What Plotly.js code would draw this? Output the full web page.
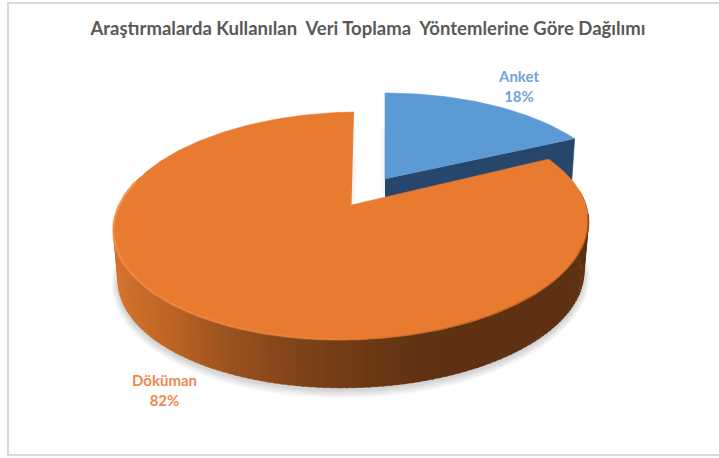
<!DOCTYPE html>
<html>
<head>
<meta charset="utf-8">
<script src="https://cdn.plot.ly/plotly-3.0.1.min.js"></script>
<style>html,body{margin:0;padding:0;background:#fff;overflow:hidden}#c{width:719px;height:458px}</style>
</head>
<body>
<div id="c"></div>
<script>
const categories = ["Anket", "Döküman"];
const values = [18, 82];
const topColors = ["#5b9ad5", "#e97b30"];
const sideColors = ["#26476b", "#5f3211"];
const labelColors = ["#6da5da", "#ee8a4c"];
const chartTitle = "Araştırmalarda Kullanılan\u00a0 Veri Toplama\u00a0 Yöntemlerine Göre Dağılımı";

const W = 719, H = 458;
const total = values.reduce((a, b) => a + b, 0);
const rad = d => d * Math.PI / 180;
const bounds = [0, values[0] / total * 360, 360];

// perspective disc: centre, x radius, depth radius, foreshortening, shear, tilt
const blueDisc = {ax: 385, ay: 179, R: 226, C: 101.8, k: 0.184, sh: 0, ro: 0};
const orangeTop = {ax: 351.5, ay: 205, R: 233.5, C: 110.1, k: 0.184, sh: 0.027, ro: 0.012};
const orangeBot = {ax: 351.5, ay: 255.5, R: 229, C: 108, k: 0.184, sh: 0.027, ro: 0.012};

function pt(d, t) {
  const s = Math.sin(rad(t)), c = Math.cos(rad(t)), q = 1 + d.k * c;
  return [d.ax + d.R * s / q + d.sh * d.C * c / q, d.ay - d.C * c / q - d.ro * d.R * s / q];
}
function arc(d, a, b, step) {
  const out = [], n = Math.max(1, Math.round(Math.abs(b - a) / (step || 1)));
  for (let i = 0; i <= n; i++) out.push(pt(d, a + (b - a) * i / n));
  return out;
}
function poly(points, fill, line, width) {
  return {type: "scatter", mode: "lines", x: points.map(p => p[0]), y: points.map(p => p[1]),
    fill: "toself", fillcolor: fill, line: {color: line || fill, width: width === undefined ? 0.6 : width},
    hoverinfo: "skip", showlegend: false};
}
function stroke(points, color, width) {
  return {type: "scatter", mode: "lines", x: points.map(p => p[0]), y: points.map(p => p[1]),
    line: {color: color, width: width}, hoverinfo: "skip", showlegend: false};
}
const stops = [[113,[214,114,46]],[170,[188,99,36]],[230,[152,81,30]],[300,[126,66,25]],[360,[110,58,21]],[420,[96,51,18]],[455,[93,49,17]],[600,[93,49,17]]];
function sideColor(x) {
  for (let i = 1; i < stops.length; i++) {
    if (x <= stops[i][0]) {
      const [x0, c0] = stops[i - 1], [x1, c1] = stops[i], f = Math.max(0, (x - x0) / (x1 - x0));
      return "rgb(" + c0.map((v, j) => Math.round(v + (c1[j] - v) * f)).join(",") + ")";
    }
  }
  return "rgb(93,49,17)";
}

const traces = [];
// soft shadow under the disc
for (let i = 7; i >= 1; i--) {
  const d = Object.assign({}, orangeBot, {R: orangeBot.R + i * 0.9, C: orangeBot.C + i * 1.0, ay: orangeBot.ay + 2});
  traces.push(poly(arc(d, 95, 275, 3), "rgba(0,0,0,0.022)", "rgba(0,0,0,0)", 0));
}
// faint shadows inside the gap
const apexO = [orangeTop.ax, orangeTop.ay];
const notchTop = pt(orangeTop, 0);
const midNotch = [(notchTop[0] + apexO[0]) / 2, (notchTop[1] + apexO[1]) / 2];
for (let w = 10; w >= 2; w -= 4) traces.push(stroke([midNotch, apexO], "rgba(0,0,0,0.018)", w));
// exploded slice: side then top
const bA = bounds[0], bB = bounds[1];
const corner = pt(blueDisc, bB), apexB = [blueDisc.ax, blueDisc.ay];
const upperB = [apexB[0], apexB[1] - 50];
for (let w = 8; w >= 2; w -= 3) traces.push(stroke([upperB, [apexB[0], apexB[1] + 15]], "rgba(0,0,0,0.018)", w));
const depth = 44;
traces.push(poly([apexB, corner, [corner[0] - 3, corner[1] + depth], [apexB[0], apexB[1] + depth]], sideColors[0]));
traces.push(poly([apexB].concat(arc(blueDisc, bA, bB)), topColors[0]));
// main slice side strips
const oA = bounds[1], oB = bounds[2];
for (let t = Math.max(oA, 84); t < Math.min(oB, 286); t += 1.5) {
  const e = t + 1.9;
  const pts = [pt(orangeTop, t), pt(orangeTop, e), pt(orangeBot, e), pt(orangeBot, t)];
  traces.push(poly(pts, sideColor((pts[0][0] + pts[1][0]) / 2), null, 0.5));
}
// main slice top
traces.push(poly([apexO].concat(arc(orangeTop, oA, oB)), topColors[1]));
// rim highlight and rim shade, both fading toward the front
for (let t = 284; t > 180; t -= 8) {
  const f = (t - 180) / 104;
  traces.push(stroke(arc(orangeTop, t, t - 8, 2), "rgba(247,150,85," + (0.15 + 0.65 * f).toFixed(2) + ")", 2.4));
}
for (let t = 96; t < 176; t += 8) {
  const f = (176 - t) / 80;
  traces.push(stroke(arc(orangeTop, t, t + 8, 2), "rgba(90,45,12," + (0.12 + 0.35 * f).toFixed(2) + ")", 2));
}

const annotations = [
  {x: 518, y: 85.5, c: 0},
  {x: 164, y: 389.5, c: 1}
].map(a => ({x: a.x, y: a.y, xref: "x", yref: "y", showarrow: false,
  text: "<b>" + categories[a.c] + "<br>" + Math.round(values[a.c] / total * 100) + "%</b>",
  font: {family: "Lato, sans-serif", size: 15, color: labelColors[a.c]}, align: "center"}));

const layout = {
  width: W, height: H, margin: {l: 0, r: 0, t: 0, b: 0},
  paper_bgcolor: "#fff", plot_bgcolor: "#fff", showlegend: false,
  xaxis: {range: [0, W], visible: false, fixedrange: true},
  yaxis: {range: [H, 0], visible: false, fixedrange: true},
  title: {text: "<b>" + chartTitle + "</b>", x: 368 / W, xanchor: "center", y: 1 - 29 / H, yanchor: "middle",
    font: {family: "Lato, sans-serif", size: 18.5, color: "#595959"}},
  annotations: annotations,
  shapes: [{type: "rect", xref: "x", yref: "y", x0: 8, x1: 730, y0: 3, y1: 455,
    line: {color: "#d9d9d9", width: 2}, layer: "below"}]
};
Plotly.newPlot("c", traces, layout, {staticPlot: true, displayModeBar: false});
</script>
</body>
</html>
